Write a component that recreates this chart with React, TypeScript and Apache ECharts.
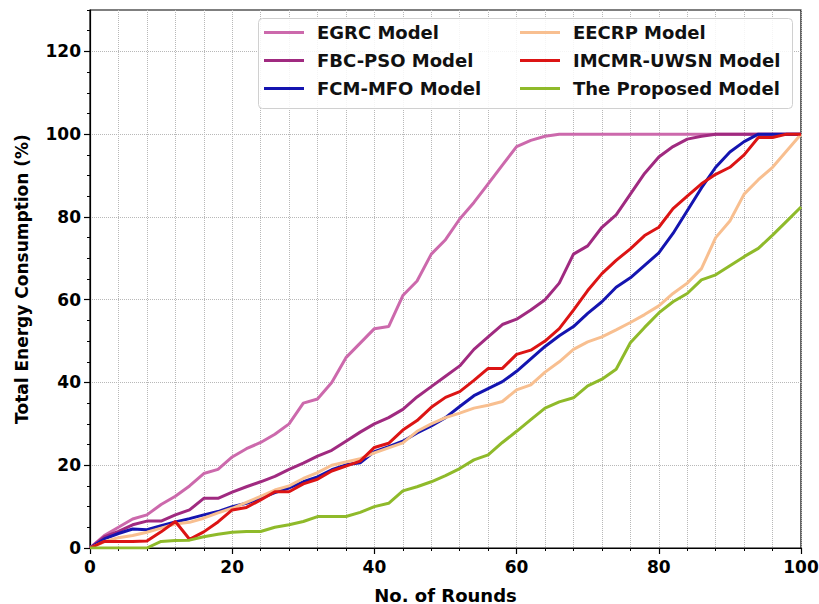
import React, { useEffect, useRef } from "react";
import * as echarts from "echarts";

// Rounds sampled every 2 rounds
const ROUNDS: number[] = [
  0, 2, 4, 6, 8, 10, 12, 14, 16, 18, 20, 22, 24, 26, 28, 30, 32, 34, 36, 38, 40,
  42, 44, 46, 48, 50, 52, 54, 56, 58, 60, 62, 64, 66, 68, 70, 72, 74, 76, 78, 80,
  82, 84, 86, 88, 90, 92, 94, 96, 98, 100,
];

const EGRC: number[] = [
  0, 3, 5, 7, 8, 10.5, 12.5, 15, 18, 19, 22, 24, 25.5, 27.5, 30, 35, 36, 40, 46, 49.5, 53,
  53.5, 61, 64.5, 71, 74.5, 79.5, 83.5, 88, 92.5, 97, 98.5, 99.5, 100, 100, 100, 100, 100, 100, 100, 100,
  100, 100, 100, 100, 100, 100, 100, 100, 100, 100,
];

const FBC_PSO: number[] = [
  0, 2.7, 4, 5.6, 6.5, 6.5, 8, 9.2, 12, 12, 13.5, 14.8, 16, 17.3, 19, 20.5, 22.2, 23.6, 25.8, 28, 30,
  31.5, 33.5, 36.5, 39, 41.5, 44, 48, 51, 54, 55.3, 57.5, 60, 64, 71, 73, 77.5, 80.5, 85.5, 90.5, 94.5,
  97, 98.8, 99.5, 100, 100, 100, 100, 100, 100, 100,
];

const FCM_MFO: number[] = [
  0, 2.2, 3.5, 4.6, 4.4, 5.4, 6.3, 7.1, 8, 8.8, 10, 10.8, 12, 13.4, 14.5, 16, 17.2, 18.9, 20.1, 20.6, 23.3,
  24.5, 25.8, 27.8, 29.5, 31.5, 34.2, 36.8, 38.5, 40.2, 42.7, 45.7, 48.7, 51.3, 53.5, 56.7, 59.5, 63, 65.3, 68.3, 71.3,
  76, 81.5, 87, 92, 95.7, 98.2, 100, 100, 100, 100,
];

const EECRP: number[] = [
  0, 1.5, 2.5, 3, 3.8, 4.8, 5.8, 6.2, 7.2, 8.5, 9.6, 11, 12.5, 14, 15, 16.8, 18.2, 20, 20.8, 21.6, 23,
  24.2, 25.4, 28.2, 30, 31.5, 32.6, 33.8, 34.5, 35.4, 38.2, 39.4, 42.5, 45, 48, 49.8, 51, 52.7, 54.5, 56.4, 58.5,
  61.5, 64, 67.5, 75, 79, 85.5, 89, 92, 96, 100,
];

const IMCMR_UWSN: number[] = [
  0, 1.6, 1.6, 1.6, 1.7, 3.9, 6.4, 2.1, 3.9, 6.3, 9.2, 9.8, 11.6, 13.6, 13.6, 15.5, 16.6, 18.6, 19.8, 21, 24.3,
  25.3, 28.5, 30.8, 34, 36.4, 37.8, 40.5, 43.4, 43.4, 46.8, 47.8, 50, 53, 57.5, 62.2, 66.3, 69.5, 72.3, 75.5, 77.5,
  82, 85, 88, 90.3, 92, 95, 99.2, 99.2, 100, 100,
];

const PROPOSED: number[] = [
  0, 0, 0, 0, 0, 1.6, 1.8, 1.9, 2.7, 3.3, 3.8, 4, 4, 5, 5.6, 6.4, 7.6, 7.6, 7.6, 8.6, 10,
  10.8, 13.8, 14.8, 16, 17.5, 19.2, 21.3, 22.5, 25.5, 28.2, 31, 33.8, 35.3, 36.3, 39.2, 40.8, 43.2, 49.6, 53.3, 56.8,
  59.5, 61.5, 64.8, 66, 68.2, 70.4, 72.4, 75.6, 79, 82.4,
];

const SERIES_NAMES: string[] = [
  "EGRC Model",
  "FBC-PSO Model",
  "FCM-MFO Model",
  "EECRP Model",
  "IMCMR-UWSN Model",
  "The Proposed Model",
];
const SERIES_VALUES: number[][] = [EGRC, FBC_PSO, FCM_MFO, EECRP, IMCMR_UWSN, PROPOSED];
const SERIES_COLORS: string[] = ["#cc69ac", "#a02a80", "#1414b0", "#f8bf90", "#dc1414", "#8fba2a"];

const X_TICKS: number[] = [0, 20, 40, 60, 80, 100];
const Y_TICKS: number[] = [0, 20, 40, 60, 80, 100, 120];

const FONT = "DejaVu Sans";

export default function App() {
  const ref = useRef<HTMLDivElement>(null);

  useEffect(() => {
    if (!ref.current) return;
    const chart = echarts.init(ref.current, undefined, { renderer: "svg" });

    const labelStyle = {
      color: "#000",
      fontFamily: FONT,
      fontWeight: "bold" as const,
      fontSize: 17,
    };
    const gridLine = { show: true, lineStyle: { type: "dotted" as const, color: "#b8b8b8", width: 1 } };

    const series = SERIES_NAMES.map((name, i) => ({
      name,
      type: "line" as const,
      data: ROUNDS.map((r, k) => [r, SERIES_VALUES[i][k]]),
      showSymbol: false,
      symbol: "none",
      lineStyle: { color: SERIES_COLORS[i], width: 3 },
      itemStyle: { color: SERIES_COLORS[i] },
      z: 2 + i * 0.01,
    }));

    const legendCommon = {
      orient: "vertical" as const,
      top: 22,
      padding: 0,
      icon: "rect",
      itemWidth: 40,
      itemHeight: 3,
      itemGap: 7,
      textStyle: {
        color: "#111",
        fontFamily: FONT,
        fontWeight: "bold" as const,
        fontSize: 18,
        lineHeight: 21,
        padding: [0, 0, 0, 8],
      },
      z: 5,
    };

    chart.setOption({
      animation: false,
      backgroundColor: "#fff",
      grid: {
        left: 90,
        right: 18,
        top: 10,
        bottom: 56,
        outerBoundsMode: "none",
        show: true,
        borderColor: "#000",
        borderWidth: 1.2,
        backgroundColor: "transparent",
      },
      graphic: [
        {
          type: "rect",
          left: 258,
          top: 18,
          shape: { width: 534, height: 90, r: 4 },
          style: { fill: "rgba(255,255,255,0.85)", stroke: "#d0d0d0", lineWidth: 1 },
          z: 4,
        },
      ],
      legend: [
        { ...legendCommon, left: 264, data: SERIES_NAMES.slice(0, 3) },
        { ...legendCommon, left: 520, data: SERIES_NAMES.slice(3, 6) },
      ],
      xAxis: {
        type: "value",
        min: 0,
        max: 100,
        interval: 20,
        name: "No. of Rounds",
        nameLocation: "middle",
        nameGap: 38,
        nameTextStyle: { ...labelStyle, fontSize: 18 },
        axisLine: { show: true, lineStyle: { color: "#000", width: 1.2 } },
        axisTick: { show: true, length: 6, lineStyle: { color: "#000", width: 1.2 } },
        minorTick: { show: true, splitNumber: 5, length: 3, lineStyle: { color: "#000", width: 1 } },
        axisLabel: { ...labelStyle, margin: 10, customValues: X_TICKS },
        splitLine: gridLine,
        minorSplitLine: gridLine,
      },
      yAxis: [
        {
          type: "value",
          min: 0,
          max: 130,
          interval: 5,
          name: "Total Energy Consumption (%)",
          nameLocation: "middle",
          nameGap: 60,
          nameTextStyle: { ...labelStyle, fontSize: 17 },
          axisLine: { show: true, lineStyle: { color: "#000", width: 1.2 } },
          axisTick: { show: true, length: 6, customValues: Y_TICKS, lineStyle: { color: "#000", width: 1.2 } },
          axisLabel: { ...labelStyle, margin: 9, customValues: Y_TICKS },
          splitLine: gridLine,
        },
        {
          type: "value",
          min: 0,
          max: 130,
          interval: 5,
          position: "left",
          axisLine: { show: false },
          axisTick: { show: true, length: 3, lineStyle: { color: "#000", width: 1 } },
          axisLabel: { show: false },
          splitLine: { show: false },
        },
      ],
      series,
    });

    return () => chart.dispose();
  }, []);

  return (
    <div
      ref={ref}
      style={{ position: "absolute", left: 0, top: 0, width: 819, height: 604 }}
    />
  );
}
